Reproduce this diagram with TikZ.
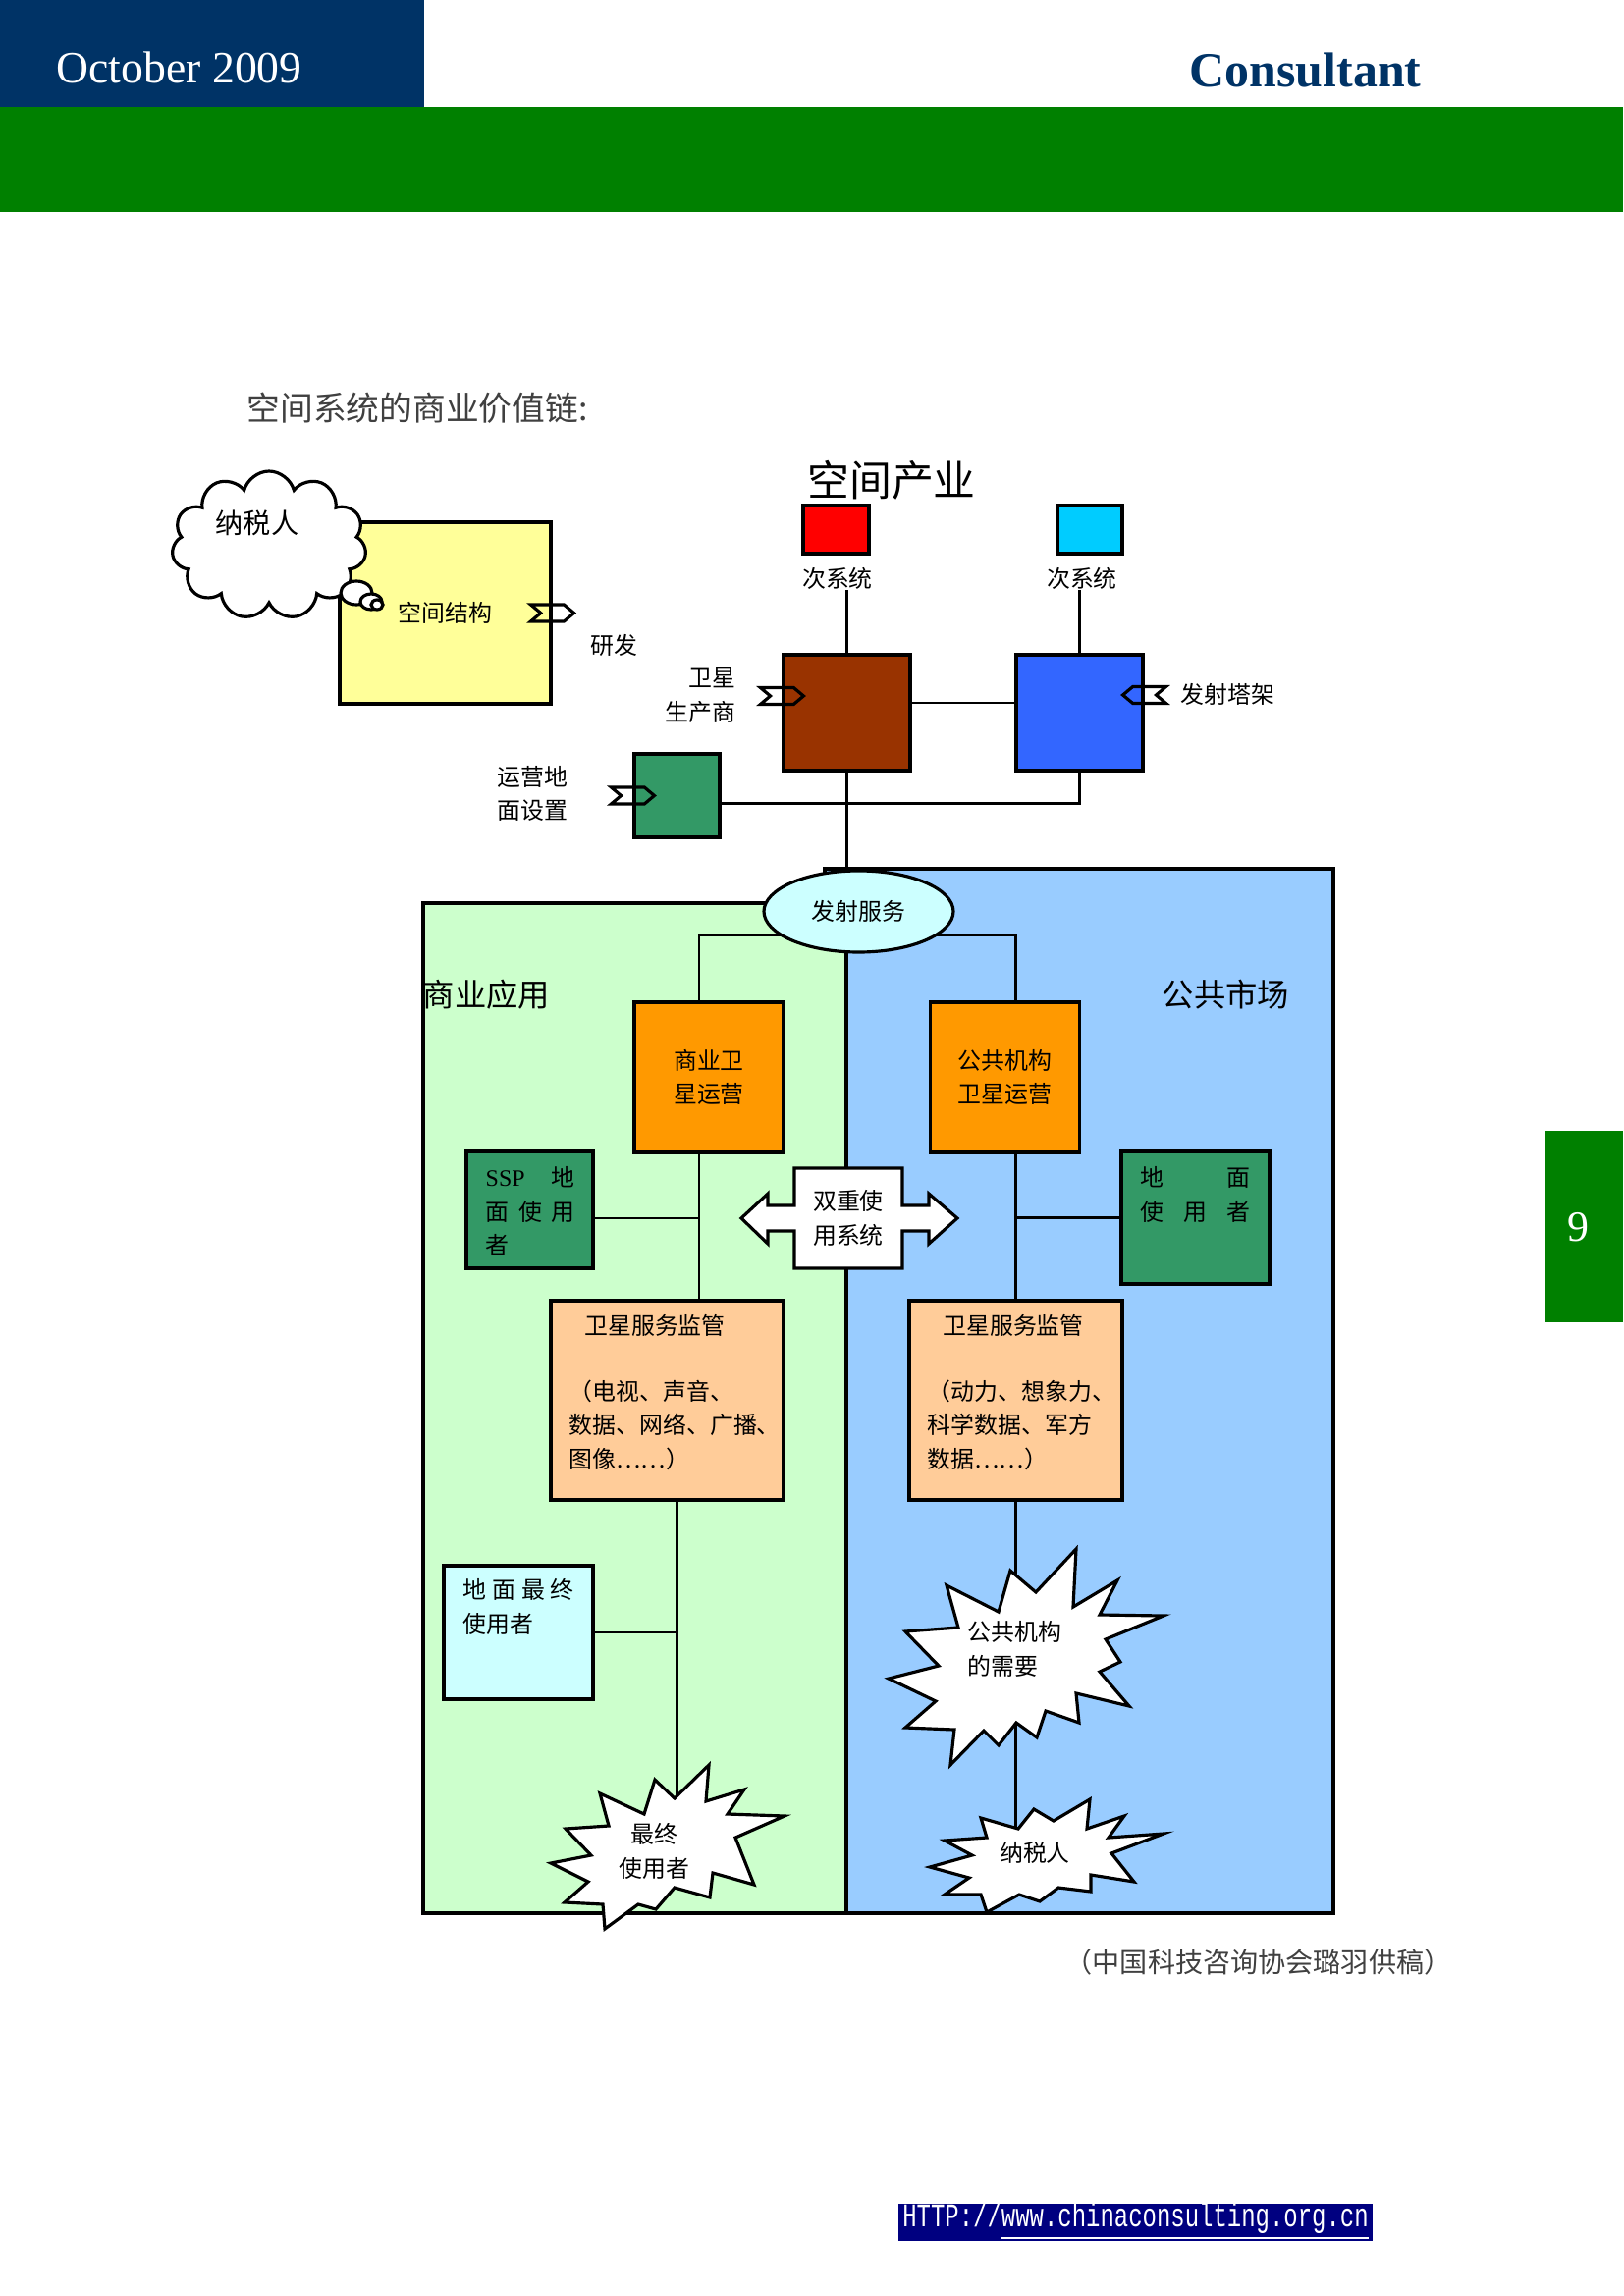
\documentclass[tikz,border=0pt]{standalone}
\usepackage{fontspec}
\setmainfont{Liberation Serif}
\newfontfamily\cjk{Noto Sans CJK SC}
\newfontfamily\urlfont{Liberation Mono}
\usetikzlibrary{shapes.symbols,shapes.geometric,calc}
\definecolor{hdBlue}{HTML}{003366}
\definecolor{hdGreen}{HTML}{008000}
\definecolor{urlBlue}{HTML}{000080}
\definecolor{vcYellow}{HTML}{FFFF99}
\definecolor{vcBrown}{HTML}{993300}
\definecolor{vcBlue}{HTML}{3366FF}
\definecolor{vcRed}{HTML}{FF0000}
\definecolor{vcCyan}{HTML}{00CCFF}
\definecolor{vcGreen}{HTML}{339966}
\definecolor{vcOrange}{HTML}{FF9900}
\definecolor{vcPeach}{HTML}{FFCC99}
\definecolor{vcIce}{HTML}{CCFFFF}
\definecolor{vcMint}{HTML}{CCFFCC}
\definecolor{vcSky}{HTML}{99CCFF}
\pgfdeclarelayer{back}
\pgfdeclarelayer{wires}
\pgfsetlayers{back,wires,main}

\begin{document}
\begin{tikzpicture}[
    box/.style={draw, line width=0.9pt, inner sep=0pt},
    wire/.style={line width=0.7pt},
    tag/.style={signal, draw, line width=0.9pt, minimum width=0.44cm, minimum height=0.17cm, inner sep=0pt, signal pointer angle=80},
    zh/.style={font=\cjk\fontsize{6.8pt}{9.8pt}\selectfont, inner sep=0pt},
    burst/.style={draw, fill=white, line width=0.9pt}
  ]
    \useasboundingbox (0,0) rectangle (16.53,-23.39);
    % page header
    \fill[hdBlue] (0,0) rectangle (4.32,-1.09);
    \fill[hdGreen] (0,-1.09) rectangle (16.53,-2.16);
    \node[anchor=west, white, inner sep=0pt, font=\fontsize{13pt}{14pt}\selectfont] (month) at (0.57,-0.69) {October 2009};
    \node[anchor=west, hdBlue, inner sep=0pt, font=\bfseries\fontsize{14.2pt}{16pt}\selectfont] (mag) at (12.11,-0.72) {Consultant};
    \fill[hdGreen] (15.74,-11.52) rectangle (16.53,-13.47);
    \node[white, font=\fontsize{12.5pt}{14pt}\selectfont] (pagenum) at (16.07,-12.50) {9};
    \node[anchor=west, black!75, inner sep=0pt, font=\cjk\fontsize{9.6pt}{12pt}\selectfont] (title) at (2.51,-4.16) {空间系统的商业价值链:};

    % space industry
    \node[box, fill=vcYellow, minimum width=2.15cm, minimum height=1.85cm, zh] (frame) at (4.535,-6.245) {空间结构};
    \node[tag, signal from=west, signal to=east] (frameTag) at (frame.east) {};
    \node[zh] (rnd) at (6.25,-6.57) {研发};
    \node[cloud, cloud puffs=11, draw, fill=white, line width=0.9pt, minimum width=1.98cm, minimum height=1.51cm] (taxCloud) at (2.74,-5.555) {};
    \node[font=\cjk\fontsize{8pt}{10pt}\selectfont] (taxCloudTxt) at (2.62,-5.33) {纳税人};
    \draw[fill=white, line width=0.9pt] (3.63,-6.04) ellipse (0.16 and 0.12);
    \draw[fill=white, line width=0.9pt] (3.78,-6.13) ellipse (0.11 and 0.08);
    \draw[fill=white, line width=0.9pt] (3.84,-6.16) ellipse (0.06 and 0.05);

    \node[font=\cjk\fontsize{12.2pt}{14pt}\selectfont] (industry) at (9.08,-4.89) {空间产业};
    \node[box, fill=vcRed, minimum width=0.67cm, minimum height=0.49cm] (subA) at (8.515,-5.395) {};
    \node[box, fill=vcCyan, minimum width=0.66cm, minimum height=0.49cm] (subB) at (11.10,-5.395) {};
    \node[zh] (subAtxt) at (8.53,-5.89) {次系统};
    \node[zh] (subBtxt) at (11.02,-5.89) {次系统};
    \node[box, fill=vcBrown, minimum width=1.29cm, minimum height=1.18cm] (maker) at (8.625,-7.26) {};
    \node[box, fill=vcBlue, minimum width=1.29cm, minimum height=1.18cm] (tower) at (10.995,-7.26) {};
    \node[tag, signal from=west, signal to=east] (makerTag) at ([yshift=1.7mm]maker.west) {};
    \node[tag, signal from=east, signal to=west] (towerTag) at ([yshift=1.8mm]tower.east) {};
    \node[zh, anchor=east, align=right] (makerTxt) at (7.50,-7.085) {卫星\\生产商};
    \node[zh, anchor=west] (towerTxt) at (12.02,-7.07) {发射塔架};
    \node[box, fill=vcGreen, minimum width=0.87cm, minimum height=0.85cm] (ground) at (6.895,-8.105) {};
    \node[tag, signal from=west, signal to=east] (groundTag) at (ground.west) {};
    \node[zh, align=left] (groundTxt) at (5.425,-8.085) {运营地\\面设置};
    \node[ellipse, draw, fill=vcIce, line width=0.9pt, minimum width=1.93cm, minimum height=0.83cm, zh] (launch) at (8.745,-9.285) {发射服务};

    % two markets
    \begin{pgfonlayer}{back}
        \draw[fill=vcSky, line width=0.9pt] (8.40,-8.85) rectangle (13.58,-19.49);
        \draw[fill=vcMint, line width=0.9pt] (4.31,-9.20) rectangle (8.62,-19.49);
    \end{pgfonlayer}
    \node[font=\cjk\fontsize{9.2pt}{11pt}\selectfont] (bizLbl) at (4.955,-10.13) {商业应用};
    \node[font=\cjk\fontsize{9.2pt}{11pt}\selectfont] (pubLbl) at (12.485,-10.13) {公共市场};

    \node[box, fill=vcOrange, minimum width=1.52cm, minimum height=1.53cm, zh, align=center] (bizOp) at (7.22,-10.975) {商业卫\\星运营};
    \node[box, fill=vcOrange, minimum width=1.52cm, minimum height=1.53cm, zh, align=center] (pubOp) at (10.235,-10.975) {公共机构\\卫星运营};

    \node[box, fill=vcGreen, minimum width=1.29cm, minimum height=1.19cm] (sspUser) at (5.395,-12.325) {};
    \node[zh, anchor=north west, align=left] (sspTxt) at (4.94,-11.88) {\makebox[0.91cm][s]{{\rmfamily SSP}\hfill 地}\\\makebox[0.91cm][s]{面\hfill 使\hfill 用}\\者};
    \node[box, fill=vcGreen, minimum width=1.51cm, minimum height=1.35cm] (gndUser) at (12.175,-12.405) {};
    \node[zh, anchor=north west, align=left] (gndTxt) at (11.61,-11.88) {\makebox[1.12cm][s]{地\hfill 面}\\\makebox[1.12cm][s]{使\hfill 用\hfill 者}};

    % dual use arrow
    \draw[fill=white, line width=0.9pt] (8.09,-11.90) -- (9.19,-11.90) -- (9.19,-12.28) -- (9.46,-12.28) -- (9.46,-12.16) -- (9.75,-12.41)
        -- (9.46,-12.67) -- (9.46,-12.54) -- (9.19,-12.54) -- (9.19,-12.92) -- (8.09,-12.92) -- (8.09,-12.54) -- (7.82,-12.54)
        -- (7.82,-12.67) -- (7.55,-12.41) -- (7.82,-12.16) -- (7.82,-12.28) -- (8.09,-12.28) -- cycle;
    \node[zh, align=center] (dualTxt) at (8.64,-12.41) {双重使\\用系统};

    \node[box, fill=vcPeach, minimum width=2.37cm, minimum height=2.03cm] (bizMon) at (6.795,-14.265) {};
    \node[zh] (bizMonHd) at (6.67,-13.50) {卫星服务监管};
    \node[zh, anchor=north west, align=left] (bizMonTxt) at (5.79,-14.05) {（电视、声音、\\数据、网络、广播、\\图像⋯⋯）};
    \node[box, fill=vcPeach, minimum width=2.17cm, minimum height=2.03cm] (pubMon) at (10.345,-14.265) {};
    \node[zh] (pubMonHd) at (10.32,-13.50) {卫星服务监管};
    \node[zh, anchor=north west, align=left] (pubMonTxt) at (9.44,-14.05) {（动力、想象力、\\科学数据、军方\\数据⋯⋯）};

    \node[box, fill=vcIce, minimum width=1.52cm, minimum height=1.36cm] (endGnd) at (5.28,-16.63) {};
    \node[zh, anchor=north west, align=left] (endGndTxt) at (4.71,-16.08) {\makebox[1.13cm][s]{地\hfill 面\hfill 最\hfill 终}\\使用者};

    % explosions
    \draw[burst] (10.96,-15.78) -- (10.93,-16.37) -- (11.38,-16.10) -- (11.20,-16.45) -- (11.85,-16.46) -- (11.26,-16.70) -- (11.41,-16.93)
        -- (11.20,-17.03) -- (11.50,-17.38) -- (10.96,-17.25) -- (10.99,-17.55) -- (10.65,-17.43) -- (10.56,-17.70) -- (10.35,-17.55)
        -- (10.17,-17.78) -- (10.02,-17.63) -- (9.68,-17.98) -- (9.72,-17.62) -- (9.22,-17.60) -- (9.53,-17.33) -- (9.05,-17.10)
        -- (9.56,-16.97) -- (9.22,-16.62) -- (9.76,-16.58) -- (9.64,-16.15) -- (10.17,-16.42) -- (10.29,-16.00) -- (10.55,-16.22) -- cycle;
    \node[zh, anchor=north west, align=left] (needTxt) at (9.85,-16.51) {公共机构\\的需要};
    \draw[burst] (7.22,-17.98) -- (7.19,-18.35) -- (7.58,-18.23) -- (7.41,-18.48) -- (7.99,-18.50) -- (7.49,-18.72) -- (7.68,-19.20)
        -- (7.26,-19.08) -- (7.23,-19.33) -- (6.87,-19.23) -- (6.68,-19.45) -- (6.50,-19.40) -- (6.16,-19.65) -- (6.14,-19.40)
        -- (5.75,-19.38) -- (5.99,-19.17) -- (5.61,-18.98) -- (6.02,-18.90) -- (5.76,-18.63) -- (6.20,-18.60) -- (6.11,-18.27)
        -- (6.56,-18.48) -- (6.67,-18.13) -- (6.87,-18.32) -- cycle;
    \node[zh, align=center] (endTxt) at (6.665,-18.86) {最终\\使用者};
    \draw[burst] (11.10,-18.33) -- (11.07,-18.63) -- (11.45,-18.50) -- (11.29,-18.72) -- (11.85,-18.68) -- (11.32,-18.88) -- (11.55,-19.17)
        -- (11.11,-19.10) -- (11.11,-19.27) -- (10.78,-19.23) -- (10.59,-19.37) -- (10.38,-19.30) -- (10.05,-19.48) -- (9.99,-19.30)
        -- (9.62,-19.30) -- (9.87,-19.13) -- (9.47,-19.02) -- (9.90,-18.90) -- (9.62,-18.75) -- (10.05,-18.72) -- (9.99,-18.52)
        -- (10.37,-18.63) -- (10.53,-18.43) -- (10.73,-18.55) -- cycle;
    \node[zh] (taxTxt) at (10.54,-18.87) {纳税人};

    % connectors
    \coordinate (makerPort) at ([yshift=1mm]maker.east);
    \coordinate (groundPort) at ([yshift=-0.8mm]ground.east);
    \coordinate (launchPort) at ([yshift=-2.4mm]launch.center);
    \coordinate (bizSpine) at ([xshift=-1mm]bizOp.south);
    \coordinate (sspPort) at ([yshift=-0.85mm]sspUser.east);
    \coordinate (bizLow) at ([xshift=1mm]bizMon.south);
    \begin{pgfonlayer}{wires}
        \draw[wire] (maker.north) -- (maker.north |- subAtxt.south);
        \draw[wire] (tower.north) -- (tower.north |- subBtxt.south);
        \draw[wire] (makerPort) -- (makerPort -| tower.west);
        \draw[wire] (groundPort) -| (tower.south);
        \draw[wire] (maker.south) -- (maker.south |- launch.north);
        \draw[wire] (launchPort) -| (bizSpine |- bizMon.north);
        \draw[wire] (launchPort) -| (pubMon.north);
        \draw[wire] (sspPort) -- (sspPort -| bizSpine);
        \draw[wire] (gndUser.west) -- (gndUser.west -| pubMon.north);
        \draw[wire] (endGnd.east) -- (endGnd.east -| bizLow);
        \draw[wire] (bizLow) -- (bizLow |- endTxt.north);
        \draw[wire] (pubMon.south) -- (pubMon.south |- taxTxt.north);
    \end{pgfonlayer}

    % page footer
    \node[anchor=west, black!75, inner sep=0pt, font=\cjk\fontsize{8pt}{9pt}\selectfont] (credit) at (10.84,-19.99) {（中国科技咨询协会璐羽供稿）};
    \node[fill=urlBlue, minimum width=4.83cm, minimum height=0.38cm, inner sep=0pt] (urlBar) at (11.565,-22.64) {};
    \node[white, inner sep=0pt, font=\urlfont\fontsize{9.6pt}{10pt}\selectfont] (urlTxt) at (11.565,-22.63) {\scalebox{0.71}[1]{HTTP://\underline{www.chinaconsulting.org.cn}}};
\end{tikzpicture}
\end{document}
